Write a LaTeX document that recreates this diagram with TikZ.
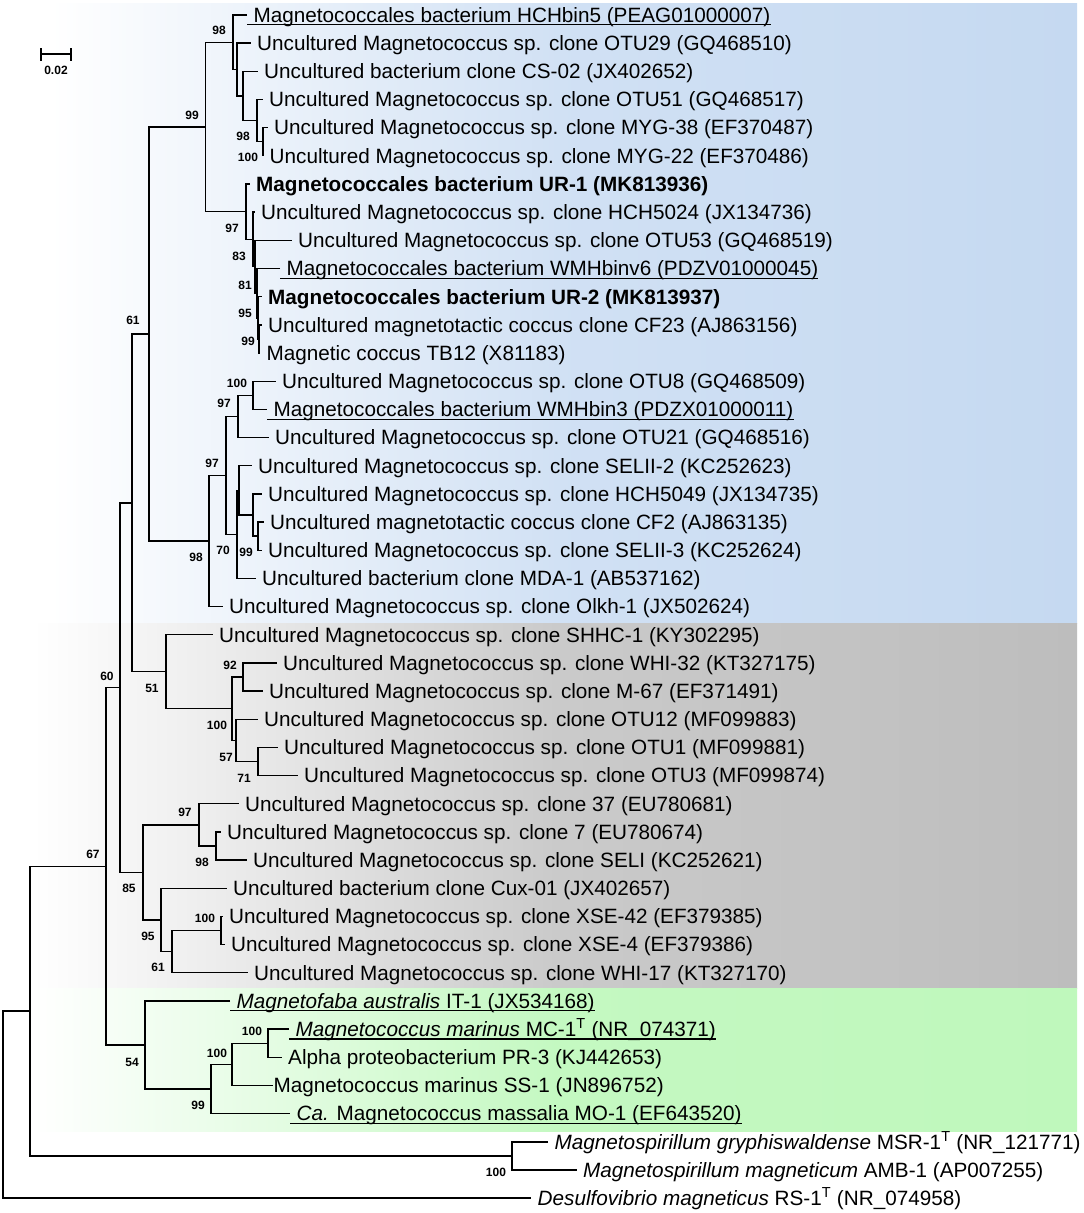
\documentclass[tikz,border=0pt]{standalone}
\usepackage{fontspec}
\setmainfont{Liberation Sans}
\usetikzlibrary{calc}
\definecolor{bandblue}{RGB}{197,217,241}
\definecolor{bandgray}{RGB}{189,189,189}
\definecolor{bandgreen}{RGB}{191,248,188}
\tikzset{
  br/.style={line width=1.4pt, line join=miter, black},
  ulline/.style={line width=1.2pt, black},
  leaftext/.style={anchor=base west, inner sep=0pt, font=\fontsize{20.7}{24}\selectfont},
  bs/.style={inner sep=0pt, font=\fontsize{12}{14}\selectfont\bfseries},
}
\newcommand\mkleaf[4]{%
  \coordinate (L#1) at (#2,{15+28.17*(#1-1)});
  \node[leaftext,#3] (T#1) at ([xshift=6.5pt,yshift=-7.3pt]L#1) {#4};
}
\newcommand\mknode[4]{%
  \path let \p1=(#3), \p2=(#4) in coordinate (#1) at (#2pt,{0.5*(\y1+\y2)});
  \draw[br] (#3) -| (#1) |- (#4);
}
\newcommand\mkul[1]{%
  \draw[ulline] ([yshift=-9.8pt]L#1) -- ([yshift=-2.5pt]T#1.base east);
}
\begin{document}
\begin{tikzpicture}[x=1pt,y=-1pt]
\useasboundingbox (0,0) rectangle (1084,1213);
\fill[white] (0,0) rectangle (1084,1213);
% background bands
\shade[left color=white, right color=bandblue, middle color=bandblue!80!white] (50,3) rectangle (1077,623);
\shade[left color=white, right color=bandgray, middle color=bandgray!80!white] (33,623) rectangle (1077,988);
\shade[left color=white, right color=bandgreen, middle color=bandgreen!92!white] (33,988) rectangle (1077,1131);

% leaves
\mkleaf{1}{247}{}{Magnetococcales bacterium HCHbin5 (PEAG01000007)}
\mkleaf{2}{250.5}{}{Uncultured Magnetococcus sp. clone OTU29 (GQ468510)}
\mkleaf{3}{257.5}{}{Uncultured bacterium clone CS-02 (JX402652)}
\mkleaf{4}{262.5}{}{Uncultured Magnetococcus sp. clone OTU51 (GQ468517)}
\mkleaf{5}{267.5}{}{Uncultured Magnetococcus sp. clone MYG-38 (EF370487)}
\mkleaf{6}{263}{}{Uncultured Magnetococcus sp. clone MYG-22 (EF370486)}
\mkleaf{7}{249.5}{}{\textbf{Magnetococcales bacterium UR-1 (MK813936)}}
\mkleaf{8}{254.5}{}{Uncultured Magnetococcus sp. clone HCH5024 (JX134736)}
\mkleaf{9}{291.5}{}{Uncultured Magnetococcus sp. clone OTU53 (GQ468519)}
\mkleaf{10}{280}{}{Magnetococcales bacterium WMHbinv6 (PDZV01000045)}
\mkleaf{11}{261.5}{}{\textbf{Magnetococcales bacterium UR-2 (MK813937)}}
\mkleaf{12}{261.5}{}{Uncultured magnetotactic coccus clone CF23 (AJ863156)}
\mkleaf{13}{260}{}{Magnetic coccus TB12 (X81183)}
\mkleaf{14}{275.5}{}{Uncultured Magnetococcus sp. clone OTU8 (GQ468509)}
\mkleaf{15}{267}{}{Magnetococcales bacterium WMHbin3 (PDZX01000011)}
\mkleaf{16}{268.5}{}{Uncultured Magnetococcus sp. clone OTU21 (GQ468516)}
\mkleaf{17}{251.5}{}{Uncultured Magnetococcus sp. clone SELII-2 (KC252623)}
\mkleaf{18}{261.5}{}{Uncultured Magnetococcus sp. clone HCH5049 (JX134735)}
\mkleaf{19}{263.5}{}{Uncultured magnetotactic coccus clone CF2 (AJ863135)}
\mkleaf{20}{261.5}{}{Uncultured Magnetococcus sp. clone SELII-3 (KC252624)}
\mkleaf{21}{255.5}{}{Uncultured bacterium clone MDA-1 (AB537162)}
\mkleaf{22}{222.5}{}{Uncultured Magnetococcus sp. clone Olkh-1 (JX502624)}
\mkleaf{23}{212.5}{}{Uncultured Magnetococcus sp. clone SHHC-1 (KY302295)}
\mkleaf{24}{276.5}{}{Uncultured Magnetococcus sp. clone WHI-32 (KT327175)}
\mkleaf{25}{262.5}{}{Uncultured Magnetococcus sp. clone M-67 (EF371491)}
\mkleaf{26}{257.5}{}{Uncultured Magnetococcus sp. clone OTU12 (MF099883)}
\mkleaf{27}{277.5}{}{Uncultured Magnetococcus sp. clone OTU1 (MF099881)}
\mkleaf{28}{297.5}{}{Uncultured Magnetococcus sp. clone OTU3 (MF099874)}
\mkleaf{29}{238.5}{}{Uncultured Magnetococcus sp. clone 37 (EU780681)}
\mkleaf{30}{220.5}{}{Uncultured Magnetococcus sp. clone 7 (EU780674)}
\mkleaf{31}{246.5}{}{Uncultured Magnetococcus sp. clone SELI (KC252621)}
\mkleaf{32}{226.5}{}{Uncultured bacterium clone Cux-01 (JX402657)}
\mkleaf{33}{222.5}{}{Uncultured Magnetococcus sp. clone XSE-42 (EF379385)}
\mkleaf{34}{224.5}{}{Uncultured Magnetococcus sp. clone XSE-4 (EF379386)}
\mkleaf{35}{247.5}{}{Uncultured Magnetococcus sp. clone WHI-17 (KT327170)}
\mkleaf{36}{230}{}{\textit{Magnetofaba australis} IT-1 (JX534168)}
\mkleaf{37}{289}{}{\textit{Magnetococcus marinus} MC-1\textsuperscript{T} (NR\_074371)}
\mkleaf{38}{281.5}{}{Alpha proteobacterium PR-3 (KJ442653)}
\mkleaf{39}{273}{xshift=-6pt}{Magnetococcus marinus SS-1 (JN896752)}
\mkleaf{40}{290}{}{\textit{Ca.} Magnetococcus massalia MO-1 (EF643520)}
\mkleaf{41}{548}{}{\textit{Magnetospirillum gryphiswaldense} MSR-1\textsuperscript{T} (NR\_121771)}
\mkleaf{42}{576.5}{}{\textit{Magnetospirillum magneticum} AMB-1 (AP007255)}
\mkleaf{43}{531}{}{\textit{Desulfovibrio magneticus} RS-1\textsuperscript{T} (NR\_074958)}

% underlines
\mkul{1}\mkul{10}\mkul{15}\mkul{36}\mkul{37}\mkul{40}

% internal nodes
\mknode{nMYG}{263}{L5}{L6}
\mknode{nOa}{257}{L4}{nMYG}
\mknode{nCS}{243}{L3}{nOa}
\mknode{nOb}{237}{L2}{nCS}
\mknode{nAa}{233}{L1}{nOb}
\mknode{nUa}{259}{L12}{L13}
\mknode{nUb}{258}{L11}{nUa}
\mknode{nUc}{257}{L10}{nUb}
\mknode{nUd}{255}{L9}{nUc}
\mknode{nUe}{253}{L8}{nUd}
\mknode{nUf}{246}{L7}{nUe}
\mknode{nBa}{205.5}{nAa}{nUf}
\mknode{nCa}{253}{L14}{L15}
\mknode{nCb}{238}{nCa}{L16}
\mknode{nCc}{258}{L19}{L20}
\mknode{nCd}{253}{L18}{nCc}
\mknode{nCe}{239}{L17}{nCd}
\mknode{nCf}{237}{nCe}{L21}
\mknode{nCg}{226}{nCb}{nCf}
\mknode{nCh}{209}{nCg}{L22}
\mknode{nSa}{149}{nBa}{nCh}
\mknode{nGa}{243}{L24}{L25}
\mknode{nGb}{258}{L27}{L28}
\mknode{nGc}{236}{L26}{nGb}
\mknode{nGd}{232}{nGa}{nGc}
\mknode{nGe}{166}{L23}{nGd}
\mknode{nSb}{132}{nSa}{nGe}
\mknode{nHa}{216}{L30}{L31}
\mknode{nHb}{199}{L29}{nHa}
\mknode{nHc}{221}{L33}{L34}
\mknode{nHd}{172}{nHc}{L35}
\mknode{nHe}{161}{L32}{nHd}
\mknode{nHf}{143}{nHb}{nHe}
\mknode{nSc}{120}{nSb}{nHf}
\mknode{nMa}{268}{L37}{L38}
\mknode{nMb}{232}{nMa}{L39}
\mknode{nMc}{211}{nMb}{L40}
\mknode{nMd}{145}{L36}{nMc}
\mknode{nSd}{106}{nSc}{nMd}
\mknode{nMs}{512}{L41}{L42}
\mknode{nOut}{30}{nSd}{nMs}
\mknode{nRoot}{3}{nOut}{L43}

% bootstrap values
\node[bs] (b1) at (219,30) {98};
\node[bs] (b2) at (192,115) {99};
\node[bs] (b3) at (243,136) {98};
\node[bs] (b4) at (248,157) {100};
\node[bs] (b5) at (232,228) {97};
\node[bs] (b6) at (239,256) {83};
\node[bs] (b7) at (245,285) {81};
\node[bs] (b8) at (245,313) {95};
\node[bs] (b9) at (248,341) {99};
\node[bs] (b10) at (133,320) {61};
\node[bs] (b11) at (237,383) {100};
\node[bs] (b12) at (224,403) {97};
\node[bs] (b13) at (212,463) {97};
\node[bs] (b14) at (223,550) {70};
\node[bs] (b15) at (246,552) {99};
\node[bs] (b16) at (196,557) {98};
\node[bs] (b17) at (107,676) {60};
\node[bs] (b18) at (230,665) {92};
\node[bs] (b19) at (152,688) {51};
\node[bs] (b20) at (217,725) {100};
\node[bs] (b21) at (226,757) {57};
\node[bs] (b22) at (244,778) {71};
\node[bs] (b23) at (185,812) {97};
\node[bs] (b24) at (202,862) {98};
\node[bs] (b25) at (93,854) {67};
\node[bs] (b26) at (129,888) {85};
\node[bs] (b27) at (205,918) {100};
\node[bs] (b28) at (148,936) {95};
\node[bs] (b29) at (158,967) {61};
\node[bs] (b30) at (252,1031) {100};
\node[bs] (b31) at (217,1053) {100};
\node[bs] (b32) at (132,1062) {54};
\node[bs] (b33) at (198,1105) {99};
\node[bs] (b34) at (496,1172) {100};

% scale bar
\coordinate (s1) at (41,54);
\coordinate (s2) at (71,54);
\draw[br] (s1) -- (s2);
\draw[br] ([yshift=6pt]s1) -- ([yshift=-7pt]s1);
\draw[br] ([yshift=6pt]s2) -- ([yshift=-7pt]s2);
\node[bs] (sl) at (56,70) {0.02};
\end{tikzpicture}
\end{document}
